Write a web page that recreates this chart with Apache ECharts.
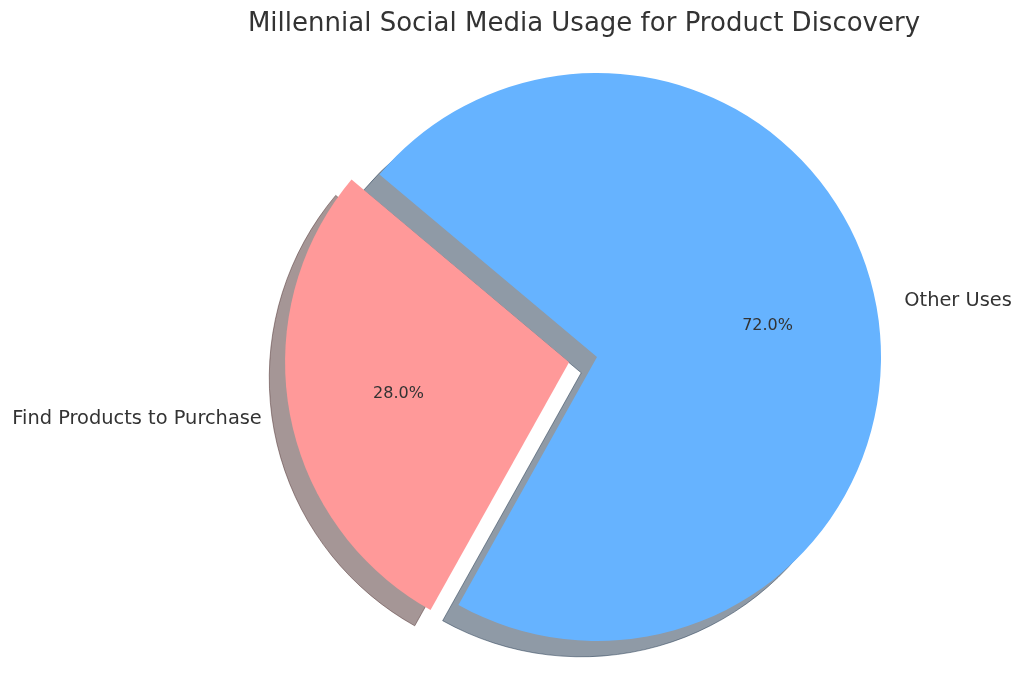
<!DOCTYPE html>
<html>
<head>
<meta charset="utf-8">
<script src="https://cdn.jsdelivr.net/npm/echarts@6/dist/echarts.min.js"></script>
<style>
html,body{margin:0;padding:0;background:#fff;}
#chart{width:1024px;height:684px;}
</style>
</head>
<body>
<div id="chart"></div>
<script>
const titleText = 'Millennial Social Media Usage for Product Discovery';
const categories = ['Find Products to Purchase', 'Other Uses'];
const values = [28, 72];
const exploded = [true, false];
const colors = ['#ff9999', '#66b3ff'];
const shadowColors = ['rgba(76,46,46,0.5)', 'rgba(31,54,77,0.5)'];

const R = 284;
const CX = 597, CY = 357;
const SHADOW = 15.8;
const FONT = 'DejaVu Sans';

function makeData(colorArr, extra) {
  return categories.map((c, i) => Object.assign({
    name: c,
    value: values[i],
    selected: exploded[i],
    itemStyle: { color: colorArr[i] }
  }, extra ? extra(i) : {}));
}

const common = {
  type: 'pie',
  startAngle: 140,
  clockwise: false,
  selectedMode: 'multiple',
  selectedOffset: R * 0.1,
  avoidLabelOverlap: false,
  silent: true,
  animation: false,
  emphasis: { disabled: true },
  select: { disabled: false, itemStyle: {} }
};

const chart = echarts.init(document.getElementById('chart'), null, { renderer: 'canvas' });
chart.setOption({
  backgroundColor: '#ffffff',
  animation: false,
  title: {
    text: titleText,
    left: 579,
    top: 6,
    textAlign: 'center',
    textStyle: { fontFamily: FONT, fontSize: 26, fontWeight: 'normal', color: '#333333' }
  },
  series: [
    Object.assign({}, common, {
      name: 'shadow',
      center: [CX - SHADOW, CY + SHADOW],
      radius: [0, R],
      z: 1,
      label: { show: false },
      labelLine: { show: false },
      data: makeData(shadowColors, i => ({ itemStyle: { color: shadowColors[i], borderColor: shadowColors[i], borderWidth: 1 } }))
    }),
    Object.assign({}, common, {
      name: 'main',
      center: [CX, CY],
      radius: [0, R],
      z: 2,
      itemStyle: { borderWidth: 0 },
      label: {
        show: true,
        position: 'outside',
        distanceToLabelLine: 0,
        fontFamily: FONT,
        fontSize: 19.4,
        color: '#333333',
        formatter: '{b}'
      },
      labelLine: { show: false, length: R * 0.1, length2: 0 },
      data: makeData(colors)
    }),
    Object.assign({}, common, {
      name: 'pct',
      center: [CX, CY],
      radius: [R * 0.2, R],
      z: 3,
      itemStyle: { color: 'rgba(0,0,0,0)', borderWidth: 0 },
      label: {
        show: true,
        position: 'inside',
        fontFamily: FONT,
        fontSize: 16,
        color: '#333333',
        formatter: p => p.percent.toFixed(1) + '%'
      },
      labelLine: { show: false },
      data: makeData(['rgba(0,0,0,0)', 'rgba(0,0,0,0)'])
    })
  ]
});
</script>
</body>
</html>
